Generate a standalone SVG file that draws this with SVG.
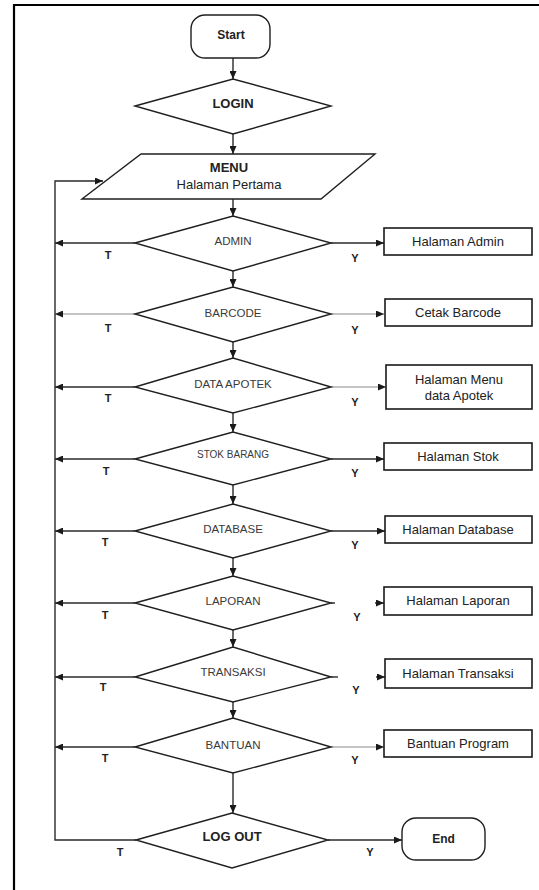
<svg xmlns="http://www.w3.org/2000/svg" width="539" height="890" viewBox="0 0 539 890">
  <defs>
    <marker id="arr" markerUnits="userSpaceOnUse" markerWidth="8" markerHeight="7" refX="8" refY="3.5" orient="auto">
      <path d="M0,0 L8,3.5 L0,7 Z" fill="#1a1a1a"/>
    </marker>
    <style>
      .shape { fill: #fff; stroke: #1f1f1f; stroke-width: 1.4; }
      .box { fill: #fff; stroke: #1a1a1a; stroke-width: 1.6; }
      .line { fill: none; stroke: #2a2a2a; stroke-width: 1.4; }
      .thin { fill: none; stroke: #8a8a8a; stroke-width: 1.2; }
      .frame { fill: none; stroke: #000; stroke-width: 2.2; }
      text { font-family: "Liberation Sans", Arial, sans-serif; fill: #222; text-anchor: middle; }
      .dec { font-size: 11.5px; fill: #3a3a3a; }
      .big { font-size: 13px; font-weight: bold; }
      .lbl { font-size: 13px; }
      .ty { font-size: 11px; font-weight: bold; }
    </style>
  </defs>

  <!-- page frame -->
  <path class="frame" d="M14,890 V5 H539"/>

  <!-- connectors -->
  <g id="connectors">
    <!-- main flow -->
    <path class="line" d="M233,58 V79" marker-end="url(#arr)"/>
    <path class="line" d="M233,134 V154" marker-end="url(#arr)"/>
    <path class="line" d="M233,199 V216" marker-end="url(#arr)"/>
    <path class="line" d="M233,271 V287" marker-end="url(#arr)"/>
    <path class="line" d="M233,342 V358" marker-end="url(#arr)"/>
    <path class="line" d="M233,413 V432" marker-end="url(#arr)"/>
    <path class="line" d="M233,485 V504" marker-end="url(#arr)"/>
    <path class="line" d="M233,558 V576" marker-end="url(#arr)"/>
    <path class="line" d="M233,630 V647" marker-end="url(#arr)"/>
    <path class="line" d="M233,702 V718" marker-end="url(#arr)"/>
    <path class="line" d="M233,773 V813" marker-end="url(#arr)"/>

    <!-- T branches back to the return line -->
    <path class="line" d="M135,243 H55" marker-end="url(#arr)"/>
    <path class="thin" d="M135,314 H55" marker-end="url(#arr)"/>
    <path class="line" d="M135,387 H55" marker-end="url(#arr)"/>
    <path class="line" d="M135,459 H55" marker-end="url(#arr)"/>
    <path class="line" d="M135,531 H55" marker-end="url(#arr)"/>
    <path class="line" d="M135,603 H55" marker-end="url(#arr)"/>
    <path class="line" d="M135,677 H55" marker-end="url(#arr)"/>
    <path class="line" d="M135,747 H55" marker-end="url(#arr)"/>

    <!-- return loop from LOG OUT to the menu -->
    <path class="line" d="M136,840 H55 V181 H103" marker-end="url(#arr)"/>

    <!-- Y branches to the pages -->
    <path class="line" d="M331,243 H384" marker-end="url(#arr)"/>
    <path class="thin" d="M331,314 H384" marker-end="url(#arr)"/>
    <path class="thin" d="M331,387 H386" marker-end="url(#arr)"/>
    <path class="line" d="M331,459 H384" marker-end="url(#arr)"/>
    <path class="line" d="M331,531 H385" marker-end="url(#arr)"/>
    <path class="line" d="M331,603 H335"/>
    <path class="line" d="M375,603 H384" marker-end="url(#arr)"/>
    <path class="line" d="M331,677 H338"/>
    <path class="line" d="M376,677 H385" marker-end="url(#arr)"/>
    <path class="thin" d="M331,747 H384" marker-end="url(#arr)"/>
    <path class="line" d="M328,840 H402" marker-end="url(#arr)"/>

    <!-- branch labels -->
    <text class="ty" x="108" y="259">T</text>
    <text class="ty" x="355" y="262">Y</text>
    <text class="ty" x="108" y="332">T</text>
    <text class="ty" x="355" y="334">Y</text>
    <text class="ty" x="108" y="402">T</text>
    <text class="ty" x="355" y="406">Y</text>
    <text class="ty" x="106" y="475">T</text>
    <text class="ty" x="355" y="477">Y</text>
    <text class="ty" x="105" y="546">T</text>
    <text class="ty" x="355" y="549">Y</text>
    <text class="ty" x="105" y="619">T</text>
    <text class="ty" x="357" y="621">Y</text>
    <text class="ty" x="103" y="691">T</text>
    <text class="ty" x="356" y="694">Y</text>
    <text class="ty" x="105" y="762">T</text>
    <text class="ty" x="355" y="764">Y</text>
    <text class="ty" x="120" y="856">T</text>
    <text class="ty" x="370" y="856">Y</text>
  </g>

  <!-- terminators, input and decisions -->
  <g id="start">
    <rect class="shape" x="191" y="15" width="79" height="43" rx="14"/>
    <text class="big" x="231" y="38.5" style="font-size:12px">Start</text>
  </g>
  <g id="login">
    <polygon class="shape" points="135,106 233,79 331,106 233,134"/>
    <text class="big" x="233" y="108">LOGIN</text>
  </g>
  <g id="menu">
    <polygon class="shape" points="141,154 375,154 321,199 82,199"/>
    <text class="big" x="229" y="172">MENU</text>
    <text class="lbl" x="229" y="189">Halaman Pertama</text>
  </g>
  <g id="admin">
    <polygon class="shape" points="135,243 233,216 331,243 233,271"/>
    <text class="dec" x="233" y="245">ADMIN</text>
  </g>
  <g id="barcode">
    <polygon class="shape" points="135,314 233,287 331,314 233,342"/>
    <text class="dec" x="233" y="317">BARCODE</text>
  </g>
  <g id="data-apotek">
    <polygon class="shape" points="135,387 233,358 331,387 233,413"/>
    <text class="dec" x="233" y="388">DATA APOTEK</text>
  </g>
  <g id="stok-barang">
    <polygon class="shape" points="135,459 233,432 331,459 233,485"/>
    <text class="dec" x="233" y="458" style="font-size:10px">STOK BARANG</text>
  </g>
  <g id="database">
    <polygon class="shape" points="135,531 233,504 331,531 233,558"/>
    <text class="dec" x="233" y="533">DATABASE</text>
  </g>
  <g id="laporan">
    <polygon class="shape" points="135,603 233,576 331,603 233,630"/>
    <text class="dec" x="233" y="605">LAPORAN</text>
  </g>
  <g id="transaksi">
    <polygon class="shape" points="135,677 233,647 331,677 233,702"/>
    <text class="dec" x="233" y="676">TRANSAKSI</text>
  </g>
  <g id="bantuan">
    <polygon class="shape" points="135,747 233,718 331,747 233,773"/>
    <text class="dec" x="233" y="749">BANTUAN</text>
  </g>
  <g id="logout">
    <polygon class="shape" points="136,840 232,813 328,840 232,868"/>
    <text class="big" x="232" y="841">LOG OUT</text>
  </g>
  <g id="end">
    <rect class="shape" x="402" y="818" width="83" height="42" rx="14"/>
    <text class="big" x="443.5" y="843" style="font-size:12px">End</text>
  </g>

  <!-- page boxes -->
  <g id="halaman-admin">
    <rect class="box" x="384" y="228" width="148" height="27"/>
    <text class="lbl" x="458" y="246">Halaman Admin</text>
  </g>
  <g id="cetak-barcode">
    <rect class="box" x="385" y="299" width="147" height="27"/>
    <text class="lbl" x="458" y="317">Cetak Barcode</text>
  </g>
  <g id="halaman-menu-apotek">
    <rect class="box" x="386" y="365" width="146" height="44"/>
    <text class="lbl" x="459" y="384">Halaman Menu</text>
    <text class="lbl" x="459" y="400">data Apotek</text>
  </g>
  <g id="halaman-stok">
    <rect class="box" x="384" y="443" width="148" height="27"/>
    <text class="lbl" x="458" y="461">Halaman Stok</text>
  </g>
  <g id="halaman-database">
    <rect class="box" x="385" y="516" width="147" height="27"/>
    <text class="lbl" x="458" y="534">Halaman Database</text>
  </g>
  <g id="halaman-laporan">
    <rect class="box" x="384" y="587" width="148" height="28"/>
    <text class="lbl" x="458" y="605">Halaman Laporan</text>
  </g>
  <g id="halaman-transaksi">
    <rect class="box" x="385" y="659" width="147" height="29"/>
    <text class="lbl" x="458" y="678">Halaman Transaksi</text>
  </g>
  <g id="bantuan-program">
    <rect class="box" x="384" y="730" width="148" height="27"/>
    <text class="lbl" x="458" y="748">Bantuan Program</text>
  </g>
</svg>
